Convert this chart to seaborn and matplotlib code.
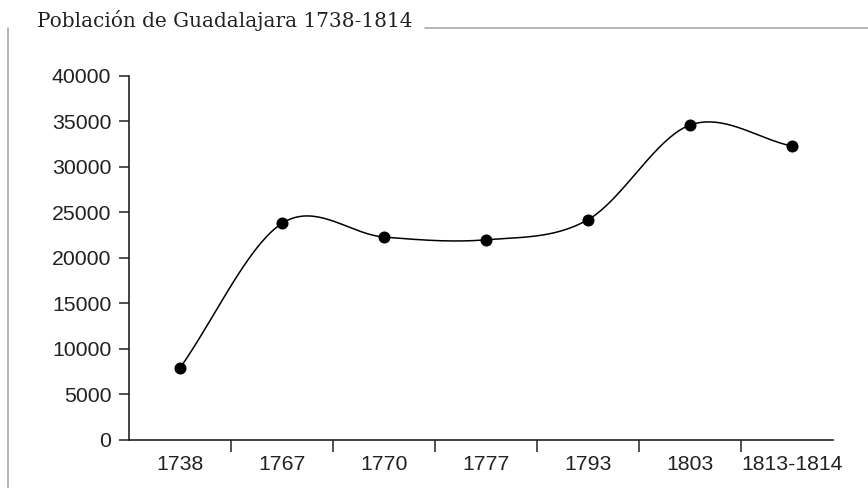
import numpy as np
import pandas as pd
import matplotlib
matplotlib.use("Agg")
import matplotlib.pyplot as plt
from matplotlib.lines import Line2D
import seaborn as sns

# Datos
anios = ["1738", "1767", "1770", "1777", "1793", "1803", "1813-1814"]
poblacion = [7900, 23800, 22300, 22000, 24200, 34600, 32300]
yticks = [0, 5000, 10000, 15000, 20000, 25000, 30000, 35000, 40000]

sns.set_theme(style="white")
plt.rcParams['font.family'] = ['Liberation Sans', 'DejaVu Sans']

df = pd.DataFrame({"pos": np.arange(len(anios)), "anio": anios, "pob": poblacion})


# curva suavizada tipo Catmull-Rom (solo para dibujar la línea)
def suavizar(x, y, n=40):
    x = np.asarray(x, float)
    y = np.asarray(y, float)
    m = np.zeros_like(y)
    m[1:-1] = (y[2:] - y[:-2]) / 2
    m[0] = y[1] - y[0]
    m[-1] = y[-1] - y[-2]
    xs, ys = [], []
    for i in range(len(x) - 1):
        t = np.linspace(0, 1, n)
        h00 = 2*t**3 - 3*t**2 + 1
        h10 = t**3 - 2*t**2 + t
        h01 = -2*t**3 + 3*t**2
        h11 = t**3 - t**2
        xs.append(x[i] + t * (x[i+1] - x[i]))
        ys.append(h00*y[i] + h10*m[i] + h01*y[i+1] + h11*m[i+1])
    return np.concatenate(xs), np.concatenate(ys)


cx, cy = suavizar(df["pos"], df["pob"])
curva = pd.DataFrame({"x": cx, "y": cy})

fig = plt.figure(figsize=(8.68, 4.88), dpi=100)
ax = fig.add_axes([0.1486, 0.0984, 0.8224, 0.7459])

sns.lineplot(data=curva, x="x", y="y", ax=ax, color="black", linewidth=1.1,
             sort=False, estimator=None)
sns.scatterplot(data=df, x="pos", y="pob", ax=ax, color="black", s=75,
                edgecolor="black", linewidth=0, zorder=3)

ax.set_xlim(-0.5, 6.5)
ax.set_ylim(0, 40000)
ax.set_xlabel("")
ax.set_ylabel("")

ax.set_xticks(df["pos"])
ax.set_xticklabels(anios)
ax.set_xticks(np.arange(0.5, 6.0, 1.0), minor=True)
ax.tick_params(axis="x", which="major", length=0, pad=11, labelsize=15.3, colors="#222222")
ax.tick_params(axis="x", which="minor", bottom=True, direction="out", length=8.5,
               width=1.2, color="#333333")
ax.set_yticks(yticks)
ax.set_yticklabels([str(v) for v in yticks])
ax.tick_params(axis="y", left=True, direction="out", length=7.2, width=1.2,
               pad=5.5, labelsize=15.3, color="#333333", labelcolor="#222222")

for s in ["top", "right"]:
    ax.spines[s].set_visible(False)
for s in ["left", "bottom"]:
    ax.spines[s].set_color("#222222")
    ax.spines[s].set_linewidth(1.2)
ax.spines["bottom"].set_bounds(-0.5, 6.4)

# título y líneas decorativas
fig.text(37 / 868, 1 - 27 / 488, "Población de Guadalajara 1738-1814",
         family="DejaVu Serif", fontsize=14.4, color="#222222", va="baseline")
fig.add_artist(Line2D([8 / 868, 8 / 868], [0, 1 - 28 / 488], color="#aaaaaa", linewidth=1.2))
fig.add_artist(Line2D([425 / 868, 1], [1 - 28 / 488, 1 - 28 / 488], color="#aaaaaa", linewidth=1.2))

fig.savefig("out.png", dpi=100)
